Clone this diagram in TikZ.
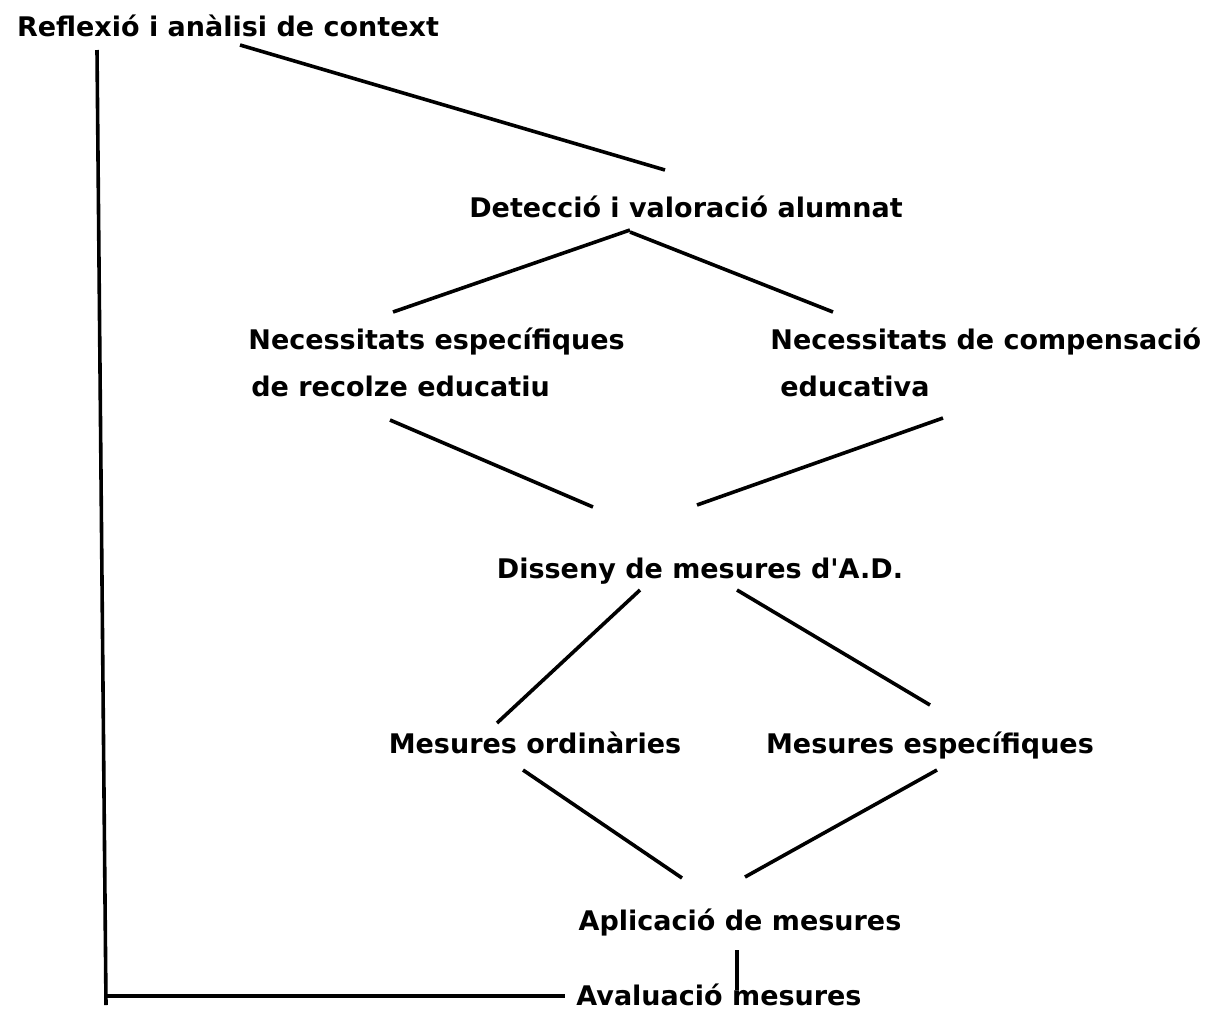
\documentclass[tikz,border=0pt]{standalone}
\usepackage{fontspec}
\newfontfamily\diagfont{DejaVu Sans}
\usetikzlibrary{calc}

\tikzset{
    label text/.style={inner sep=0pt, font=\diagfont\bfseries\fontsize{13.5}{23.5}\selectfont},
    link/.style={line width=1.8pt}
}

\begin{document}
\begin{tikzpicture}[x=0.5pt, y=-0.5pt]
    \useasboundingbox (0,0) rectangle (1217,1019);
    % texts
    \node[label text, anchor=base] (refl) at (228,36) {Reflexió i anàlisi de context};
    \node[label text, anchor=base] (det) at (686,217) {Detecció i valoració alumnat};
    \node[label text, anchor=base west, align=left] (nesp) at (248,396) {Necessitats específiques\\ \hspace*{1.5pt}de recolze educatiu};
    \node[label text, anchor=base west, align=left] (ncomp) at (770,396) {Necessitats de compensació\\ \hspace*{5pt}educativa};
    \node[label text, anchor=base] (diss) at (700,578) {Disseny de mesures d'A.D.};
    \node[label text, anchor=base] (mord) at (535,753) {Mesures ordinàries};
    \node[label text, anchor=base] (mesp) at (930,753) {Mesures específiques};
    \node[label text, anchor=base] (apl) at (740,930) {Aplicació de mesures};
    \node[label text, anchor=base] (aval) at (719,1005) {Avaluació mesures};
    % connectors
    \draw[link] ($(refl.base)+(12,9)$) -- ($(det.base)+(-21,-47)$);
    \draw[link] ($(det.base)+(-56,13)$) -- ($(nesp.base west)+(145,-84)$);
    \draw[link] ($(det.base)+(-56,15)$) -- ($(ncomp.base west)+(63,-84)$);
    \draw[link] ($(nesp.base west)+(142,24)$) -- ($(diss.base)+(-107,-71)$);
    \draw[link] ($(ncomp.base west)+(173,22)$) -- ($(diss.base)+(-3,-73)$);
    \draw[link] ($(diss.base)+(-60,12)$) -- ($(mord.base)+(-38,-30)$);
    \draw[link] ($(diss.base)+(37,12)$) -- ($(mesp.base)+(0,-48)$);
    \draw[link] ($(mord.base)+(-12,17)$) -- ($(apl.base)+(-58,-52)$);
    \draw[link] ($(mesp.base)+(7,17)$) -- ($(apl.base)+(5,-53)$);
    \draw[link] ($(apl.base)+(-3,20)$) -- ($(aval.base)+(18,-15)$);
    % feedback back to the context
    \draw[link] ($(refl.base)+(-131,14)$) -- ($(aval.base)+(-613,0)$);
    \draw[link] ($(aval.base)+(-613,-9)$) -- ($(aval.base)+(-154,-9)$);
\end{tikzpicture}
\end{document}
